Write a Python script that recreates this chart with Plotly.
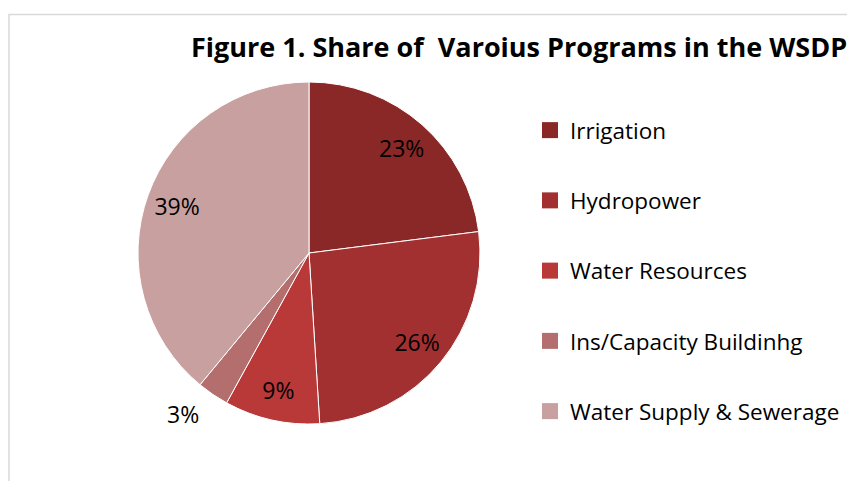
import plotly.graph_objects as go

# ---- data ----
categories = ["Irrigation", "Hydropower", "Water Resources", "Ins/Capacity Buildinhg", "Water Supply & Sewerage"]
values = [23, 26, 9, 3, 39]
colors = ["#8A2727", "#A33030", "#B93838", "#B46E6E", "#C8A0A0"]
title_text = "Figure 1. Share of  Varoius Programs in the WSDP"
outside_labels = ["Ins/Capacity Buildinhg"]

W, H = 855, 481
cx, cy, R = 301, 245, 171  # pie centre / radius in pixels (figure coords)
FONT = "Open Sans"
TXT = dict(family=FONT, size=23, color="black")

def dom(radius):
    return dict(x=[(cx - radius) / W, (cx + radius) / W],
                y=[(H - cy - radius) / H, (H - cy + radius) / H])

pct_text = [f"{v}%" for v in values]
inner_text = ["" if c in outside_labels else t for c, t in zip(categories, pct_text)]
outer_text = [t if c in outside_labels else "" for c, t in zip(categories, pct_text)]
outer_pos = ["outside" if c in outside_labels else "none" for c in categories]

fig = go.Figure()

# coloured pie
fig.add_trace(go.Pie(labels=categories, values=values, sort=False, direction="clockwise",
                     marker=dict(colors=colors, line=dict(color="white", width=1)),
                     textinfo="none", showlegend=False, hoverinfo="label+percent",
                     domain=dom(R)))

# transparent ring carrying the inside labels
fig.add_trace(go.Pie(labels=categories, values=values, sort=False, direction="clockwise",
                     hole=0.64, marker=dict(colors=["rgba(0,0,0,0)"] * len(values), line=dict(width=0)),
                     text=inner_text, textinfo="text", textposition="inside",
                     insidetextorientation="horizontal", insidetextfont=TXT,
                     showlegend=False, hoverinfo="skip", domain=dom(R)))

# transparent pie carrying the outside label(s)
fig.add_trace(go.Pie(labels=categories, values=values, sort=False, direction="clockwise",
                     marker=dict(colors=["rgba(0,0,0,0)"] * len(values), line=dict(width=0)),
                     text=outer_text, textinfo="text", textposition=outer_pos,
                     outsidetextfont=TXT,
                     showlegend=False, hoverinfo="skip", domain=dom(R + 10)))

# legend entries
for i, (c, col) in enumerate(zip(categories, colors)):
    fig.add_trace(go.Scatter(x=[None], y=[None], mode="markers", name=c,
                             legendgroup=f"g{i}",
                             marker=dict(symbol="square", size=16, color=col)))

fig.update_layout(
    width=W, height=H,
    margin=dict(l=0, r=0, t=0, b=0),
    paper_bgcolor="white", plot_bgcolor="white",
    xaxis=dict(visible=False), yaxis=dict(visible=False),
    showlegend=True,
    legend=dict(x=522 / W, y=1 - 101 / H, xanchor="left", yanchor="top",
                font=dict(family=FONT, size=22.5, color="black"),
                traceorder="grouped", tracegroupgap=38, itemsizing="trace",
                bgcolor="rgba(0,0,0,0)"),
    annotations=[dict(text=f"<b>{title_text}</b>", x=181 / W, y=1 - 38 / H,
                      xref="paper", yref="paper", xanchor="left", yanchor="middle",
                      showarrow=False, font=dict(family=FONT, size=27, color="black"))],
    shapes=[dict(type="rect", xref="paper", yref="paper",
                 x0=1 / W, y0=-0.05, x1=1.05, y1=1 - 6.5 / H,
                 line=dict(color="#D9D9D9", width=1.5), fillcolor="rgba(0,0,0,0)")],
)

fig.write_html("out.html")
